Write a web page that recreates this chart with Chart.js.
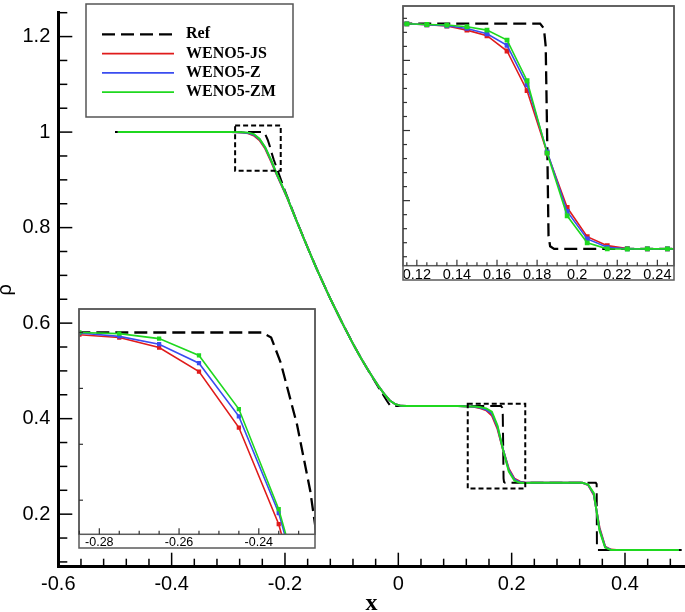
<!DOCTYPE html>
<html lang="en"><head>
<meta charset="utf-8">
<title>Sod tube density</title>
<style>
body { margin:0; background:#fff; overflow:hidden; }
#wrap { position:relative; width:685px; height:612px; }
canvas { position:absolute; }
</style>
<script src="https://cdn.jsdelivr.net/npm/chart.js"></script>
<script>
// cell centres (dx = 0.01)
var xCell=[-0.495,-0.485,-0.475,-0.465,-0.455,-0.445,-0.435,-0.425,-0.415,-0.405,
  -0.395,-0.385,-0.375,-0.365,-0.355,-0.345,-0.335,-0.325,-0.315,-0.305,
  -0.295,-0.285,-0.275,-0.265,-0.255,-0.245,-0.235,-0.225,-0.215,-0.205,
  -0.195,-0.185,-0.175,-0.165,-0.155,-0.145,-0.135,-0.125,-0.115,-0.105,
  -0.095,-0.085,-0.075,-0.065,-0.055,-0.045,-0.035,-0.025,-0.015,-0.005,
  0.005,0.015,0.025,0.035,0.045,0.055,0.065,0.075,0.085,0.095,
  0.105,0.115,0.125,0.135,0.145,0.155,0.165,0.175,0.185,0.195,
  0.205,0.215,0.225,0.235,0.245,0.255,0.265,0.275,0.285,0.295,
  0.305,0.315,0.325,0.335,0.345,0.355,0.365,0.375,0.385,0.395,
  0.405,0.415,0.425,0.435,0.445,0.455,0.465,0.475,0.485,0.495];

var rhoJS=[1,1,1,1,1,1,1,1,1,1,
  1,1,1,1,1,1,1,1,1,1,
  1,0.9996,0.9991,0.9973,0.9930,0.9830,0.9657,0.940,0.912,0.886,
  0.859,0.830,0.801,0.772,0.744,0.716,0.690,0.664,0.639,0.615,
  0.591,0.568,0.546,0.525,0.505,0.486,0.468,0.452,0.438,0.430,
  0.4268,0.4264,0.4263,0.4263,0.4263,0.4263,0.4263,0.4263,0.4263,0.4263,
  0.4263,0.4261,0.4254,0.4245,0.4216,0.4176,0.4067,0.3784,0.3341,0.2951,
  0.2743,0.2679,0.2658,0.2656,0.2656,0.2656,0.2656,0.2656,0.2656,0.2656,
  0.2656,0.2656,0.2656,0.261,0.240,0.172,0.132,0.1258,0.125,0.125,
  0.125,0.125,0.125,0.125,0.125,0.125,0.125,0.125,0.125,0.125];

var rhoZ=[1,1,1,1,1,1,1,1,1,1,
  1,1,1,1,1,1,1,1,1,1,
  1,0.9999,0.9993,0.9979,0.9945,0.9850,0.9677,0.942,0.913,0.887,
  0.860,0.830,0.801,0.772,0.744,0.716,0.690,0.664,0.639,0.615,
  0.591,0.568,0.546,0.525,0.505,0.486,0.468,0.452,0.438,0.430,
  0.4268,0.4264,0.4263,0.4263,0.4263,0.4263,0.4263,0.4263,0.4263,0.4263,
  0.4263,0.4261,0.4254,0.4247,0.4228,0.4190,0.4107,0.3826,0.3348,0.2923,
  0.2727,0.2667,0.2656,0.2656,0.2656,0.2656,0.2656,0.2656,0.2656,0.2656,
  0.2656,0.2656,0.2656,0.2615,0.242,0.169,0.131,0.1255,0.125,0.125,
  0.125,0.125,0.125,0.125,0.125,0.125,0.125,0.125,0.125,0.125];

var rhoZM=[1,1,1,1,1,1,1,1,1,1,
  1,1,1,1,1,1,1,1,1,1,
  1,1,0.9998,0.9989,0.9959,0.9863,0.9684,0.943,0.914,0.888,
  0.860,0.830,0.801,0.772,0.744,0.716,0.690,0.664,0.639,0.615,
  0.591,0.568,0.546,0.525,0.505,0.486,0.468,0.452,0.438,0.430,
  0.4268,0.4264,0.4263,0.4263,0.4263,0.4263,0.4263,0.4263,0.4263,0.4263,
  0.4263,0.4261,0.4256,0.4252,0.4240,0.4216,0.4145,0.3855,0.3339,0.2892,
  0.2699,0.2656,0.2655,0.2656,0.2656,0.2656,0.2656,0.2656,0.2656,0.2656,
  0.2656,0.2656,0.2656,0.262,0.244,0.166,0.130,0.1252,0.125,0.125,
  0.125,0.125,0.125,0.125,0.125,0.125,0.125,0.125,0.125,0.125];

// reference solution
var refX=[-0.5,-0.2392,-0.2369,-0.2345,-0.2304,-0.2271,-0.2256,-0.22,-0.21,-0.2,
  -0.18,-0.16,-0.14,-0.12,-0.1,-0.08,-0.06,-0.04,-0.02,-0.0145,-0.012,
  0.1815,0.1834,0.1843,0.1850,0.1857,0.1865,0.1885,
  0.3485,0.35,0.3505,0.352,0.5];
var refY=[1,1,0.9991,0.9946,0.9835,0.9717,0.9642,0.943,0.910,0.877,
  0.816,0.758,0.703,0.651,0.603,0.557,0.515,0.475,0.437,0.4275,0.4263,
  0.4263,0.4228,0.41,0.347,0.275,0.2675,0.2656,
  0.2656,0.263,0.13,0.125,0.125];

var seriesNames=['Ref','WENO5-JS','WENO5-Z','WENO5-ZM'];
var seriesColors=['#000000','#e01b1b','#3a4cf0','#1fd81f'];
var xMajor=[-0.6,-0.4,-0.2,0,0.2,0.4];
var yMajor=[0.2,0.4,0.6,0.8,1,1.2];
var leftMajor=[-0.28,-0.26,-0.24];
var rightMajor=[0.12,0.14,0.16,0.18,0.2,0.22,0.24];
// zoom windows marked on the main plot: [x0,x1,y0,y1]
var zoomBoxes=[[-0.288,-0.2075,0.919,1.0138],[0.1225,0.224,0.2536,0.431]];

var sansFont='"Liberation Sans", Arial, sans-serif';
var serifFont='"Liberation Serif", "Times New Roman", serif';

function pts(xs,ys) { return xs.map(function(x,i){ return {x:x,y:ys[i]}; }); }
function fmt(v) { return String(+(+v).toFixed(4)); }

function makeSets(lw,rlw,pr) {
  var ys=[refY,rhoJS,rhoZ,rhoZM];
  return ys.map(function(y,k){
    return { label:seriesNames[k], data:k==0?pts(refX,refY):pts(xCell,y),
      borderColor:seriesColors[k], backgroundColor:seriesColors[k],
      borderWidth:k==0?rlw:lw, borderDash:k==0?[13,6]:[],
      pointRadius:k==0?0:pr, pointStyle:'rect', pointBorderWidth:0,
      order:3-k, tension:0 };
  });
}

// ticks pointing into the plot
var inTicks={id:'inTicks',afterDraw:function(c,a,o){
  var ctx=c.ctx, ca=c.chartArea;
  ctx.save(); ctx.strokeStyle=o.color; ctx.lineWidth=o.width;
  ['x','y'].forEach(function(ax){
    var t=o[ax]; if (!t) return;
    var s=c.scales[ax], n=Math.round((t.to-t.from)/t.step);
    for (var i=0;i<=n;i++) {
      var v=t.from+i*t.step, q=v/t.major, big=Math.abs(q-Math.round(q))<1e-6;
      var L=big?t.majorLen:t.minorLen, p=s.getPixelForValue(v);
      ctx.beginPath();
      if (ax=='x') { ctx.moveTo(p,ca.bottom); ctx.lineTo(p,ca.bottom-L); }
      else { ctx.moveTo(ca.left,p); ctx.lineTo(ca.left+L,p); }
      ctx.stroke();
    }
  });
  ctx.restore(); }};

var boxes={id:'boxes',afterDatasetsDraw:function(c){
  var ctx=c.ctx, sx=c.scales.x, sy=c.scales.y;
  ctx.save(); ctx.strokeStyle='#000'; ctx.lineWidth=2; ctx.setLineDash([5,3]);
  zoomBoxes.forEach(function(b){
    var x0=sx.getPixelForValue(b[0]), x1=sx.getPixelForValue(b[1]);
    var y0=sy.getPixelForValue(b[3]), y1=sy.getPixelForValue(b[2]);
    ctx.strokeRect(x0,y0,x1-x0,y1-y0);
  });
  ctx.restore(); }};

var legendBox={id:'legendBox',afterDraw:function(c){
  var ctx=c.ctx;
  ctx.save();
  ctx.fillStyle='#fff'; ctx.fillRect(86,4,207,113);
  ctx.strokeStyle='#555'; ctx.lineWidth=1.5; ctx.strokeRect(86,4,207,113);
  ctx.font='bold 16px '+serifFont; ctx.textBaseline='middle';
  c.data.datasets.forEach(function(ds,k){
    var y=34.3+k*19.3;
    ctx.strokeStyle=ds.borderColor; ctx.lineWidth=k==0?2.2:1.8; ctx.setLineDash(ds.borderDash);
    ctx.beginPath(); ctx.moveTo(102,y); ctx.lineTo(174,y); ctx.stroke();
    ctx.setLineDash([]);
    ctx.fillStyle='#000'; ctx.fillText(ds.label,186,y);
  });
  ctx.restore(); }};

var frame={id:'frame',
  beforeDraw:function(c){ var ctx=c.ctx; ctx.save(); ctx.fillStyle='#fff'; ctx.fillRect(0,0,c.width,c.height); ctx.restore(); },
  afterDraw:function(c){
    var ctx=c.ctx, ca=c.chartArea;
    ctx.save(); ctx.strokeStyle='#5a5a5a'; ctx.lineWidth=1.5;
    ctx.strokeRect(ca.left,ca.top,ca.right-ca.left,ca.bottom-ca.top);
    ctx.strokeRect(ca.left,ca.top,ca.right-ca.left,c.height-1-ca.top);
    ctx.restore(); }};

function tickList(arr) { return function(s){ s.ticks=arr.map(function(v){ return {value:v}; }); }; }

function mainChart() {
  new Chart(document.getElementById('main'),{type:'line',
    data:{datasets:makeSets(2,2,0)},
    plugins:[boxes,inTicks,legendBox],
    options:{responsive:false,animation:false,
      layout:{padding:{top:12.7,right:0.5,left:0,bottom:0}},
      plugins:{legend:{display:false},tooltip:{enabled:false},
        inTicks:{color:'#000',width:1.5,
          x:{from:-0.6,to:0.48,step:0.04,major:0.2,majorLen:14,minorLen:8},
          y:{from:0.1,to:1.25,step:0.05,major:0.2,majorLen:14,minorLen:9}}},
      scales:{
        x:{type:'linear',min:-0.6,max:0.505,afterBuildTicks:tickList(xMajor),
          afterFit:function(s){ s.height=45.3; s.paddingLeft=0; s.paddingRight=0; },
          grid:{display:false,drawTicks:false},border:{display:true,width:3,color:'#000'},
          ticks:{padding:6,color:'#000',maxRotation:0,autoSkip:false,callback:fmt,
            font:{family:sansFont,size:20}},
          title:{display:true,text:'x',color:'#000',padding:{top:0,bottom:-4},
            font:{family:serifFont,weight:'bold',size:24,lineHeight:1}}},
        y:{type:'linear',min:0.09,max:1.25,afterBuildTicks:tickList(yMajor),
          afterFit:function(s){ s.width=58.3; s.paddingTop=0; s.paddingBottom=0; },
          grid:{display:false,drawTicks:false},border:{display:true,width:3,color:'#000'},
          ticks:{padding:8,color:'#000',autoSkip:false,callback:fmt,font:{family:sansFont,size:20}},
          title:{display:true,text:'ρ',color:'#000',padding:{top:-4.5,bottom:0},
            font:{family:sansFont,size:20,lineHeight:1}}}}}});
}

function insetChart(id,xr,yr,majors,tk,fs,strip,pr) {
  new Chart(document.getElementById(id),{type:'line',
    data:{datasets:makeSets(1.6,2.3,pr)},
    plugins:[frame,inTicks],
    options:{responsive:false,animation:false,layout:{padding:1},
      plugins:{legend:{display:false},tooltip:{enabled:false},inTicks:tk},
      scales:{
        x:{type:'linear',min:xr[0],max:xr[1],afterBuildTicks:tickList(majors),
          afterFit:function(s){ s.height=strip; s.paddingLeft=0; s.paddingRight=0; },
          grid:{display:false,drawTicks:false},border:{display:false},
          ticks:{padding:1,color:'#000',maxRotation:0,autoSkip:false,callback:fmt,
            font:{family:sansFont,size:fs}}},
        y:{type:'linear',display:false,min:yr[0],max:yr[1]}}}});
}

function init() {
  mainChart();
  insetChart('insetL',[-0.2851,-0.2259],[0.9639,1.0042],leftMajor,
    {color:'#333',width:1.2,
     x:{from:-0.285,to:-0.23,step:0.005,major:0.02,majorLen:6,minorLen:3.5},
     y:{from:0.97,to:1.0,step:0.01,major:0.1,majorLen:4,minorLen:4}},12.5,13.7,3);
  insetChart('insetR',[0.1131,0.2483],[0.2536,0.4388],rightMajor,
    {color:'#333',width:1.2,
     x:{from:0.115,to:0.245,step:0.005,major:0.02,majorLen:6,minorLen:3.5},
     y:{from:0.26,to:0.43,step:0.01,major:0.05,majorLen:7,minorLen:4}},14.5,14.3,3.4);
}
</script></head>
<body onload="init();">
<div id="wrap">
  <canvas id="main" width="685" height="612" style="left:0;top:0"></canvas>
  <canvas id="insetL" width="244" height="244" style="left:75px;top:305px"></canvas>
  <canvas id="insetR" width="279" height="279" style="left:399px;top:2px"></canvas>
</div>
</body></html>
